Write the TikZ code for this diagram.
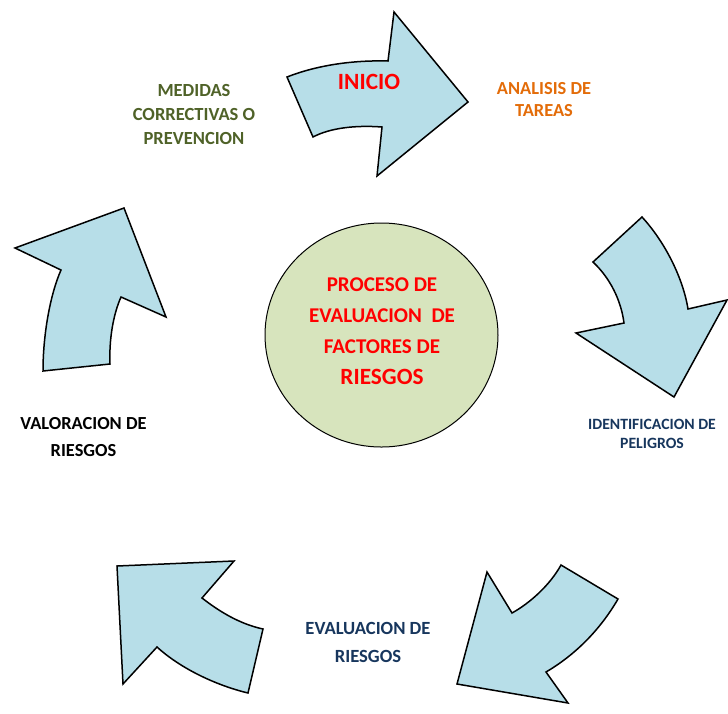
\documentclass[tikz,border=0pt]{standalone}
\usepackage{fontspec}
\setmainfont{Carlito}
\usetikzlibrary{shapes.geometric}
\definecolor{arrowfill}{HTML}{B7DEE8}
\definecolor{circfill}{HTML}{D7E4BD}
\definecolor{redtxt}{HTML}{FF0000}
\definecolor{greentxt}{HTML}{4F6228}
\definecolor{orangetxt}{HTML}{E36C09}
\definecolor{navytxt}{HTML}{17365D}
\tikzset{
  bigarrow/.style={draw=black, fill=arrowfill, line width=1.5pt, line join=miter},
  lbl/.style={align=center, inner sep=0pt, font=\bfseries\fontsize{18.5}{24}\selectfont},
}
\begin{document}
\begin{tikzpicture}[x=1pt,y=-1pt]
\useasboundingbox (0,0) rectangle (728,713);
% top arrow (INICIO)
\draw[bigarrow] (287,77) .. controls (315,66) and (350,60) .. (388,61)
  -- (394,12) -- (468,102) -- (377,176) -- (382,127)
  .. controls (355,125) and (330,128) .. (313,137) -- cycle;
% right arrow
\draw[bigarrow] (642,217) .. controls (665,242) and (683,278) .. (688,309)
  -- (727,300) -- (674,397) -- (576,333) -- (624,323)
  .. controls (621,300) and (610,278) .. (593,262) -- cycle;
% bottom-right arrow
\draw[bigarrow] (561,565) -- (618,599)
  .. controls (600,630) and (575,655) .. (546,672)
  -- (568,703) -- (457,684) -- (487,572) -- (512,613)
  .. controls (530,603) and (550,585) .. (561,565) -- cycle;
% bottom-left arrow
\draw[bigarrow] (117,566) -- (234,561) -- (202,598)
  .. controls (220,612) and (240,624) .. (263,629)
  -- (248,693)
  .. controls (215,685) and (180,668) .. (157,647)
  -- (123,684) -- cycle;
% left arrow
\draw[bigarrow] (43,371) -- (110,364)
  .. controls (109,340) and (113,315) .. (121,297)
  -- (166,317) -- (124,208) -- (15,248) -- (61,270)
  .. controls (50,295) and (43,335) .. (43,371) -- cycle;
% center circle
\node[ellipse, draw=black, fill=circfill, line width=1pt, minimum width=233pt, minimum height=224pt, inner sep=0pt] (center) at (381.5,335) {};
\node[lbl, text=redtxt, font=\bfseries\fontsize{21}{31}\selectfont] (title) at (382,330.75)
  {PROCESO DE\\EVALUACION~~DE\\FACTORES DE\\{\fontsize{23.3}{31}\selectfont RIESGOS}};
% labels
\node[anchor=base, inner sep=0pt, text=redtxt, font=\bfseries\fontsize{23.3}{28}\selectfont] (inicio) at (369,89.3) {INICIO};
\node[lbl, text=orangetxt, font=\bfseries\fontsize{18.4}{22}\selectfont] (analisis) at (544,100) {ANALISIS DE\\TAREAS};
\node[lbl, text=navytxt, font=\bfseries\fontsize{15.7}{19}\selectfont] (identif) at (652,433.7) {IDENTIFICACION DE\\PELIGROS};
\node[lbl, text=navytxt, font=\bfseries\fontsize{18.6}{28}\selectfont] (evalua) at (368,642) {EVALUACION DE\\RIESGOS};
\node[lbl, text=black, font=\bfseries\fontsize{18.4}{27}\selectfont] (valora) at (83.5,436.6) {VALORACION DE\\RIESGOS};
\node[lbl, text=greentxt, font=\bfseries\fontsize{18.5}{24}\selectfont] (medidas) at (194,114) {MEDIDAS\\CORRECTIVAS O\\PREVENCION};
\end{tikzpicture}
\end{document}
